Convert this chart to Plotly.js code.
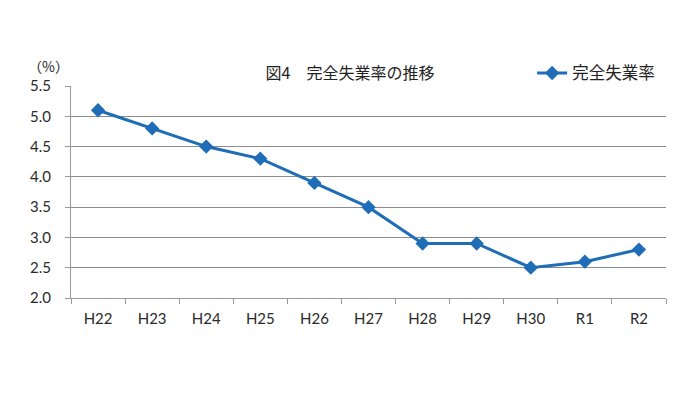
<!DOCTYPE html>
<html><head><meta charset="utf-8">
<script src="https://cdn.plot.ly/plotly-3.0.1.min.js"></script>
<style>html,body{margin:0;padding:0;background:#fff;}#c{width:700px;height:393px;}</style>
</head><body><div id="c"></div>
<script>
const categories = ["H22","H23","H24","H25","H26","H27","H28","H29","H30","R1","R2"];
const rates = [5.1, 4.8, 4.5, 4.3, 3.9, 3.5, 2.9, 2.9, 2.5, 2.6, 2.8];
const yTicks = [2.0, 2.5, 3.0, 3.5, 4.0, 4.5, 5.0, 5.5];
const seriesName = "完全失業率";
const chartTitle = "図4　完全失業率の推移";
const unitLabel = "（%）";

const blue = "#1F6DB6";
const tickFont = {family: "Lato, Noto Sans, sans-serif", size: 15, color: "#2a2a2a"};
Plotly.newPlot("c", [{
  x: categories, y: rates, type: "scatter", mode: "lines+markers", name: seriesName,
  line: {color: blue, width: 3},
  marker: {symbol: "diamond", size: 11, color: blue}
}], {
  width: 700, height: 393,
  margin: {l: 71, r: 34, t: 86, b: 95},
  paper_bgcolor: "#fff", plot_bgcolor: "#fff",
  title: {text: chartTitle, x: 0.5, xanchor: "center", y: 0.814, yanchor: "middle",
          font: {family: "Noto Sans CJK JP", size: 16, color: "#222"}},
  showlegend: true,
  legend: {x: 0.775, xanchor: "left", y: 1.06, yanchor: "middle", orientation: "h",
           font: {family: "Noto Sans CJK JP", size: 16.5, color: "#222"}, bgcolor: "rgba(0,0,0,0)"},
  xaxis: {type: "category", tickson: "boundaries", ticks: "outside", ticklen: 5, tickcolor: "#999",
          showline: true, linecolor: "#999", linewidth: 1, showgrid: false,
          tickfont: tickFont, ticklabelstandoff: 7, range: [-0.5, 10.5]},
  yaxis: {range: [2.0, 5.5], tickvals: yTicks, ticktext: yTicks.map(v => v.toFixed(1)),
          ticks: "outside", ticklen: 5, tickcolor: "#999",
          showline: true, linecolor: "#999", linewidth: 1, showgrid: true, gridcolor: "#8c8c8c", gridwidth: 1,
          zeroline: false, tickfont: tickFont, ticklabelstandoff: 11},
  annotations: [{text: unitLabel, xref: "paper", yref: "paper", x: -0.037, y: 1.095, xanchor: "center", yanchor: "middle",
                 showarrow: false, font: {family: "Noto Sans CJK JP", size: 14, color: "#222"}}]
}, {displayModeBar: false, staticPlot: true});
</script></body></html>
